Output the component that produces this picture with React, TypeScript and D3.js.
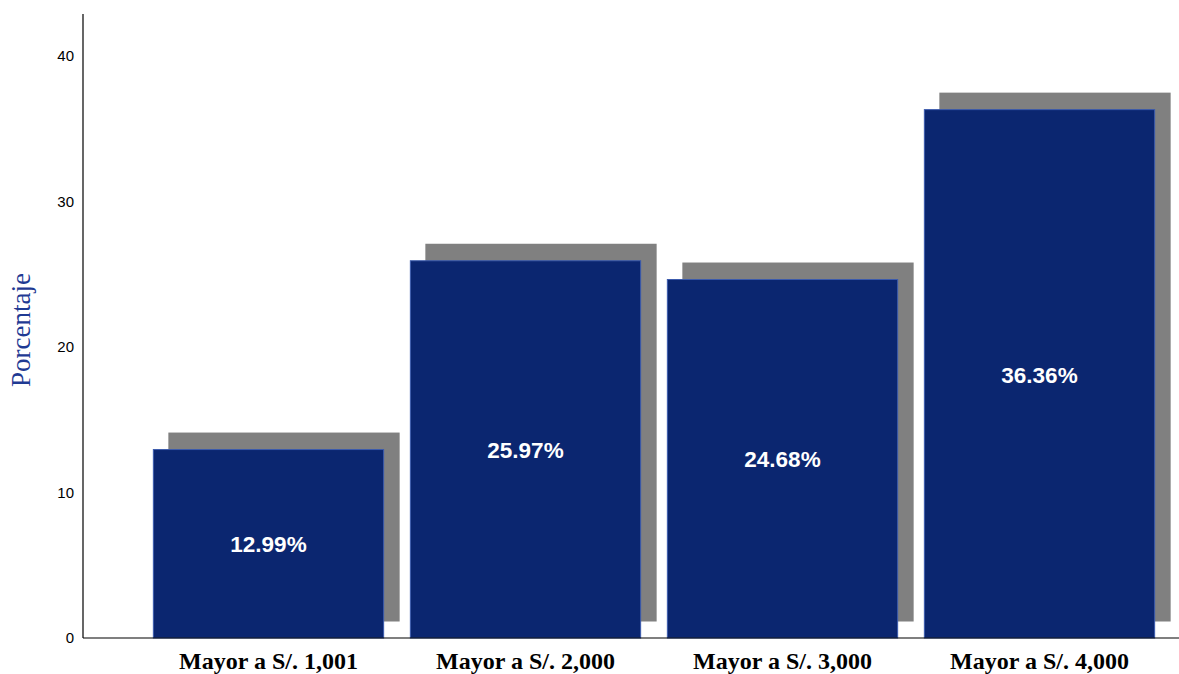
import React from "react";
import * as d3 from "d3";

const categories = ["Mayor a S/. 1,001", "Mayor a S/. 2,000", "Mayor a S/. 3,000", "Mayor a S/. 4,000"];
const values = [12.99, 25.97, 24.68, 36.36];
const yTicks = [0, 10, 20, 30, 40];

const W = 1179, H = 674;
const plotLeft = 83, plotRight = 1179, plotTop = 14, plotBottom = 638;

export default function App() {
  const y = d3.scaleLinear().domain([0, 42.9]).range([plotBottom, plotTop]);
  const x = d3.scaleBand<string>().domain(categories).range([140, 1168]).paddingInner(0.1).paddingOuter(0.05);
  const bw = x.bandwidth();
  const dx = 15.5, dy = 16.5;
  return (
    <svg width={W} height={H} style={{ position: "absolute", left: 0, top: 0, display: "block" }}>
      <rect width={W} height={H} fill="#fff" />
      {categories.map((c, i) => {
        const x0 = x(c)!;
        const yt = y(values[i]);
        return (
          <rect key={"s" + i} x={x0 + dx} y={yt - dy} width={bw} height={plotBottom - dy - (yt - dy)} fill="#808080" />
        );
      })}
      {categories.map((c, i) => {
        const x0 = x(c)!;
        const yt = y(values[i]);
        return (
          <rect key={"b" + i} x={x0 + 0.5} y={yt + 0.5} width={bw - 1} height={plotBottom - yt - 0.5}
            fill="#0B2670" stroke="#3B5BAE" strokeWidth={1} />
        );
      })}
      {categories.map((c, i) => {
        const x0 = x(c)!;
        const yt = y(values[i]);
        return (
          <text key={"l" + i} x={x0 + bw / 2} y={(yt + plotBottom) / 2 + 3} textAnchor="middle" dominantBaseline="middle"
            fill="#fff" fontFamily="Liberation Sans, Arial, sans-serif" fontWeight="bold" fontSize={22.5}>
            {values[i].toFixed(2)}%
          </text>
        );
      })}
      <line x1={plotLeft} x2={plotLeft} y1={plotTop} y2={plotBottom} stroke="#000" strokeWidth={1.2} />
      <line x1={plotLeft} x2={plotRight} y1={plotBottom} y2={plotBottom} stroke="#000" strokeWidth={1.2} />
      {yTicks.map((t) => (
        <text key={"t" + t} x={74} y={y(t) + 1} textAnchor="end" dominantBaseline="middle"
          fontFamily="Liberation Sans, Arial, sans-serif" fontSize={15} fill="#000">{t}</text>
      ))}
      {categories.map((c) => (
        <text key={"c" + c} x={x(c)! + bw / 2} y={669} textAnchor="middle"
          fontFamily="Liberation Serif, Times New Roman, serif" fontWeight="bold" fontSize={24} fill="#000">{c}</text>
      ))}
      <text transform={`translate(30, ${(plotTop + plotBottom) / 2 + 4}) rotate(-90)`} textAnchor="middle"
        fontFamily="Liberation Serif, Times New Roman, serif" fontSize={27} fill="#1F3A93">Porcentaje</text>
    </svg>
  );
}
